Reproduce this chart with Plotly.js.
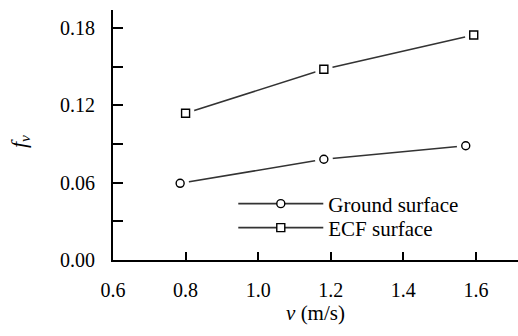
<!DOCTYPE html>
<html>
<head>
<meta charset="utf-8">
<script src="https://cdn.plot.ly/plotly-3.0.1.min.js"></script>
<style>html,body{margin:0;padding:0;background:#fff;}#chart{width:518px;height:336px;}</style>
</head>
<body>
<div id="chart"></div>
<script>
// Data
const groundX = [0.785, 1.181, 1.572];
const groundY = [0.0595, 0.0782, 0.0887];
const ecfX = [0.800, 1.181, 1.594];
const ecfY = [0.1139, 0.1480, 0.1746];
const seriesNames = ["Ground surface", "ECF surface"];
const yTickVals = [0, 0.03, 0.06, 0.09, 0.12, 0.15, 0.18];
const yTickText = ["0.00", "", "0.06", "", "0.12", "", "0.18"];
const xTickVals = [0.6, 0.8, 1.0, 1.2, 1.4, 1.6];
const xTickText = ["0.6", "0.8", "1.0", "1.2", "1.4", "1.6"];

const FONT = "Liberation Serif";
const lineColor = "#333333";

function seriesTraces(x, y, name, symbol, legendId) {
  return [
    { x: x, y: y, name: name, mode: "lines+markers", type: "scatter", legend: legendId,
      line: { color: lineColor, width: 1.6 },
      marker: { symbol: symbol, size: 8, color: "#fff", line: { color: "#000", width: 1.4 } },
      showlegend: true, cliponaxis: false },
    { x: x, y: y, mode: "markers", type: "scatter", hoverinfo: "skip",
      marker: { symbol: "circle", size: 18, color: "#fff", line: { width: 0 } },
      showlegend: false, cliponaxis: false },
    { x: x, y: y, mode: "markers", type: "scatter", hoverinfo: "skip",
      marker: { symbol: symbol, size: 8, color: "#fff", line: { color: "#000", width: 1.4 } },
      showlegend: false, cliponaxis: false }
  ];
}

const data = [].concat(
  seriesTraces(groundX, groundY, seriesNames[0], "circle", "legend"),
  seriesTraces(ecfX, ecfY, seriesNames[1], "square", "legend2")
);

function legendAt(yPaper) {
  return {
    x: 0.297, y: yPaper, xanchor: "left", yanchor: "middle",
    bgcolor: "rgba(0,0,0,0)", borderwidth: 0,
    itemwidth: 85, font: { family: FONT, size: 21, color: "#000" }
  };
}

const layout = {
  width: 518, height: 336,
  margin: { l: 113, r: 0, t: 10, b: 76 },
  paper_bgcolor: "#fff", plot_bgcolor: "#fff",
  font: { family: FONT, size: 20, color: "#000" },
  showlegend: true,
  legend: legendAt(0.224),
  legend2: legendAt(0.128),
  xaxis: {
    range: [0.6, 1.716], showgrid: false, zeroline: false,
    showline: true, linecolor: "#000", linewidth: 2,
    ticks: "inside", ticklen: 8, tickwidth: 2, tickcolor: "#000",
    tickmode: "array", tickvals: xTickVals, ticktext: xTickText,
    tickfont: { family: FONT, size: 20, color: "#000" }, ticklabelstandoff: 11,
    title: { text: "<i>v</i> (m/s)", font: { family: FONT, size: 21, color: "#000" }, standoff: 1 }
  },
  yaxis: {
    range: [0, 0.194], showgrid: false, zeroline: false,
    showline: true, linecolor: "#000", linewidth: 2,
    ticks: "inside", ticklen: 10, tickwidth: 2, tickcolor: "#000",
    tickmode: "array", tickvals: yTickVals, ticktext: yTickText,
    tickfont: { family: FONT, size: 20, color: "#000" }, ticklabelstandoff: 12
  },
  annotations: [{
    text: "<i>f<sub>v</sub></i>", xref: "paper", yref: "paper",
    x: -0.23, y: 0.475, xanchor: "center", yanchor: "middle",
    textangle: -90, showarrow: false, font: { family: FONT, size: 22, color: "#000" }
  }]
};

Plotly.newPlot("chart", data, layout, { staticPlot: true, displayModeBar: false });
</script>
</body>
</html>
